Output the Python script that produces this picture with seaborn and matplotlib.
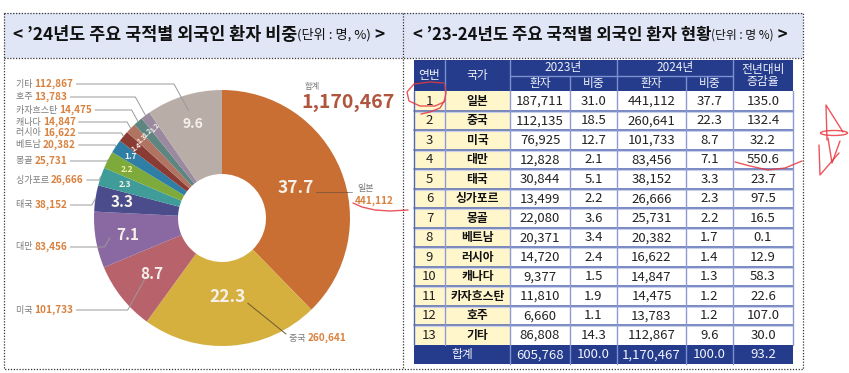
import numpy as np
import matplotlib
matplotlib.use("Agg")
import matplotlib.pyplot as plt
import seaborn as sns
from matplotlib.patches import Rectangle, Ellipse

# ---------------- data ----------------
countries = ['일본', '중국', '미국', '대만', '태국', '싱가포르', '몽골', '베트남',
             '러시아', '캐나다', '카자흐스탄', '호주', '기타']
patients_2023 = [187711, 112135, 76925, 12828, 30844, 13499, 22080, 20371,
                 14720, 9377, 11810, 6660, 86808]
share_2023 = [31.0, 18.5, 12.7, 2.1, 5.1, 2.2, 3.6, 3.4, 2.4, 1.5, 1.9, 1.1, 14.3]
patients_2024 = [441112, 260641, 101733, 83456, 38152, 26666, 25731, 20382,
                 16622, 14847, 14475, 13783, 112867]
share_2024 = [37.7, 22.3, 8.7, 7.1, 3.3, 2.3, 2.2, 1.7, 1.4, 1.3, 1.2, 1.2, 9.6]
growth = [135.0, 132.4, 32.2, 550.6, 23.7, 97.5, 16.5, 0.1, 12.9, 58.3, 22.6, 107.0, 30.0]
total_row = ['605,768', '100.0', '1,170,467', '100.0', '93.2']
total_2024 = 1170467
title_left = ('< ’24년도 주요 국적별 외국인 환자 비중', '(단위 : 명, %)', ' >')
title_right = ('< ’23-24년도 주요 국적별 외국인 환자 현황', '(단위 : 명 %)', ' >')
header_top = ['연번', '국가', '2023년', '2024년', '전년대비\n증감율']
header_sub = ['환자', '비중', '환자', '비중']

# ---------------- style ----------------
pie_colors = sns.color_palette(['#C96F33', '#D5B03F', '#B8636B', '#8A68A2', '#4A4C8C',
                                '#3F9C98', '#7DAA3A', '#2E7EA6', '#8A3B33', '#B27462',
                                '#5F8580', '#9B8A9F', '#B9ADA7'])
sns.set_theme(style="white")
plt.rcParams['font.family'] = ['Noto Sans CJK KR', 'DejaVu Sans']

W, H = 849, 373
fig = plt.figure(figsize=(W / 100, H / 100), dpi=100)

# donut axes (drawn underneath the overlay axes)
cx, cy, R, Rin = 222, 218, 128, 44
pax = fig.add_axes([(cx - R) / W, (H - cy - R) / H, 2 * R / W, 2 * R / H])
pax.set_zorder(0)
wedges, _ = pax.pie(share_2024, colors=pie_colors, startangle=90, counterclock=False,
                    radius=1, wedgeprops=dict(width=1 - Rin / R, edgecolor='none'))
pax.set_xlim(-1, 1)
pax.set_ylim(-1, 1)
pax.axis('off')

bg = fig.add_axes([0, 0, 1, 1])
bg.set_zorder(1)
bg.patch.set_visible(False)
bg.set_xlim(0, W)
bg.set_ylim(H, 0)
bg.axis('off')
renderer = fig.canvas.get_renderer()


def seq_text(x, y, parts):
    for s, kw in parts:
        t = bg.text(x, y, s, va='center', ha='left', **kw)
        x += t.get_window_extent(renderer=renderer).width
    return x


# title bars and dotted frames
fig.patches.append(Rectangle((4 / W, 1 - 58 / H), 799 / W, 45 / H, fc='#E0E6F6', ec='none',
                             transform=fig.transFigure, zorder=-1))
dot = dict(color='#333333', lw=0.9, ls=(0, (1, 1.3)))
bg.plot([4, 803, 803, 4, 4], [13, 13, 369, 369, 13], **dot)
bg.plot([4, 803], [58, 58], **dot)
bg.plot([403, 403], [13, 369], **dot)

tb = dict(fontsize=12.5, fontweight='bold', color='#111111')
ts = dict(fontsize=9.5, color='#111111')
seq_text(13, 35, [(title_left[0], tb), (title_left[1], ts), (title_left[2], tb)])
tb2 = dict(tb, fontsize=12)
ts2 = dict(ts, fontsize=8.5)
seq_text(413, 35, [(title_right[0], tb2), (title_right[1], ts2), (title_right[2], tb2)])


def polar_px(i, frac):
    w = wedges[i]
    a = np.deg2rad((w.theta1 + w.theta2) / 2)
    return cx + frac * R * np.cos(a), cy - frac * R * np.sin(a)


pct_r = [0.62, 0.62, 0.70, 0.75, 0.79, 0.80, 0.83, 0.86, 0.87, 0.88, 0.89, 0.88, 0.77]
pct_fs = [12.5, 12.5, 11, 11, 11, 6, 6, 6, 5, 5, 5, 5, 10]
pct_col = ['#F6F0EA'] * 13
pct_col[6] = '#F2EFA8'
pct_rot = [0, 0, 0, 0, 0, 0, 0, 0, 35, 40, 45, 50, 0]

# leader lines first (under the labels)
lead = dict(color='#9A9A9A', lw=0.7, zorder=2)
left_idx = [12, 11, 10, 9, 8, 7, 6, 5, 4, 3, 2]
left_y = [84, 97, 110, 122, 133, 145, 161, 180, 205, 247, 310]
end_r = [0.88, 1.0, 1.0, 1.0, 1.0, 1.0, 1.0, 1.0, 1.0, 0.89, 0.77]
name_kw = dict(fontsize=6.5, color='#7A7A7A')
val_kw = dict(fontsize=7.2, color='#D9813F', fontweight='bold')
for k, i in enumerate(left_idx):
    y = left_y[k]
    xe = seq_text(16, y, [(countries[i] + ' ', name_kw), (f'{patients_2024[i]:,}', val_kw)])
    ex, ey = polar_px(i, end_r[k])
    knee = min(ex - 0.55 * abs(ey - y), ex)
    bg.plot([xe + 3, knee, ex], [y, y, ey], **lead)

for i, s in enumerate(share_2024):
    x, y = polar_px(i, pct_r[i])
    bg.text(x, y, f'{s:.1f}', ha='center', va='center', fontsize=pct_fs[i],
            fontweight='bold', color=pct_col[i], rotation=pct_rot[i], zorder=5)

# China label
seq_text(289, 338, [(countries[1] + ' ', name_kw), (f'{patients_2024[1]:,}', val_kw)])
sx, sy = polar_px(1, 0.62)
bg.plot([sx + 20, 286], [sy + 6, 334], color='#6E5A2A', lw=0.7, zorder=2)

# Japan label
bg.text(357, 188, countries[0], fontsize=6.5, color='#7A7A7A', ha='left', va='center')
bg.text(355, 201, f'{patients_2024[0]:,}', ha='left', va='center', **val_kw)
jx, jy = polar_px(0, 0.62)
bg.plot([jx + 20, 348], [192, 192], color='#8A5A3A', lw=0.7, zorder=2)
bg.plot([348, 352], [192, 192], **lead)

# total
bg.text(305, 86, '합계', fontsize=6, color='#7A7A7A', ha='left', va='center')
bg.text(301, 103, f'{total_2024:,}', fontsize=14, fontweight='bold', color='#B0563E',
        ha='left', va='center')

# ---------------- table ----------------
cols = [414, 445, 510, 570, 617, 686, 733, 793]
navy = '#243C8B'
sep = '#7D90D0'
y0, y1, y2 = 60, 76, 91
rh = 19.5
n = len(countries)
ytot = y2 + n * rh

bg.add_patch(Rectangle((cols[0], y0), cols[-1] - cols[0], y2 - y0, fc=navy, ec='none'))
for xv in [cols[1], cols[2], cols[4], cols[6]]:
    bg.plot([xv, xv], [y0, y2], color=sep, lw=1)
for xv in [cols[3], cols[5]]:
    bg.plot([xv, xv], [y1, y2], color=sep, lw=1)
bg.plot([cols[2], cols[6]], [y1, y1], color=sep, lw=1)
hk = dict(fontsize=8.5, color='#EEF1FB', ha='center', va='center')
ym = (y0 + y2) / 2
bg.text((cols[0] + cols[1]) / 2, ym, header_top[0], **hk)
bg.text((cols[1] + cols[2]) / 2, ym, header_top[1], **hk)
bg.text((cols[2] + cols[4]) / 2, (y0 + y1) / 2, header_top[2], **hk)
bg.text((cols[4] + cols[6]) / 2, (y0 + y1) / 2, header_top[3], **hk)
bg.text((cols[6] + cols[7]) / 2, ym, header_top[4], linespacing=1.0, **hk)
for j, s in enumerate(header_sub):
    bg.text((cols[2 + j] + cols[3 + j]) / 2, (y1 + y2) / 2, s, **hk)

dk = dict(fontsize=9.5, color='#222222', ha='center', va='center')
for i in range(n):
    top = y2 + i * rh
    bg.add_patch(Rectangle((cols[0], top), cols[2] - cols[0], rh, fc='#FFF6CC', ec='none'))
    yc = top + rh / 2 + 0.5
    row = [str(i + 1), countries[i], f'{patients_2023[i]:,}', f'{share_2023[i]:.1f}',
           f'{patients_2024[i]:,}', f'{share_2024[i]:.1f}', f'{growth[i]:.1f}']
    for j, s in enumerate(row):
        kw = dict(dk)
        if j == 1:
            kw.update(fontweight='bold', fontsize=8.5, color='#111111')
        bg.text((cols[j] + cols[j + 1]) / 2, yc, s, **kw)
    if i > 0:
        bg.plot([cols[0], cols[-1]], [top, top], color='#5468B2', lw=1.1)
        bg.plot([cols[0], cols[-1]], [top + 1.2, top + 1.2], color='#C9D0EC', lw=0.8)
for xv in cols[1:-1]:
    bg.plot([xv, xv], [y2, ytot], color='#8E9BD2', lw=1.0)
bg.plot([cols[0], cols[0]], [y2, ytot], color='#5468B2', lw=1.0)
bg.plot([cols[-1], cols[-1]], [y2, ytot], color='#8E9BD2', lw=1.0)

bg.add_patch(Rectangle((cols[0], ytot), cols[-1] - cols[0], rh, fc=navy, ec='none'))
for xv in cols[2:-1]:
    bg.plot([xv, xv], [ytot, ytot + rh], color=sep, lw=1)
tk = dict(fontsize=9.5, color='#F2F4FC', ha='center', va='center')
bg.text((cols[0] + cols[2]) / 2, ytot + rh / 2, '합계', **dict(tk, fontsize=8.5))
for j, s in enumerate(total_row):
    bg.text((cols[2 + j] + cols[3 + j]) / 2, ytot + rh / 2 + 0.5, s, **tk)

# ---------------- red hand annotations ----------------
red = dict(color='#E8383F', lw=1.0, alpha=0.85, solid_capstyle='round', zorder=10)
bg.plot([353, 362, 375, 390, 408], [203, 207, 210, 211, 210], **red)
bg.plot([444, 430, 414, 407, 409, 420, 435, 444, 446, 445],
        [83, 82, 84, 92, 101, 106, 106, 102, 93, 85], **red)
bg.plot([445, 440, 430, 421], [100, 108, 112, 114], **red)
bg.plot([735, 750, 768, 785, 802], [162, 166, 170, 168, 161], **red)
bg.plot([827, 826, 843], [140, 105, 132], **red)
bg.add_patch(Ellipse((834, 133), 27, 5, fill=False, ec='#E8383F', lw=1.0, alpha=0.85))
bg.plot([828, 832, 840], [138, 163, 141], **red)
bg.plot([819, 820, 839], [145, 175, 153], **red)

fig.savefig('out.png', dpi=100)
